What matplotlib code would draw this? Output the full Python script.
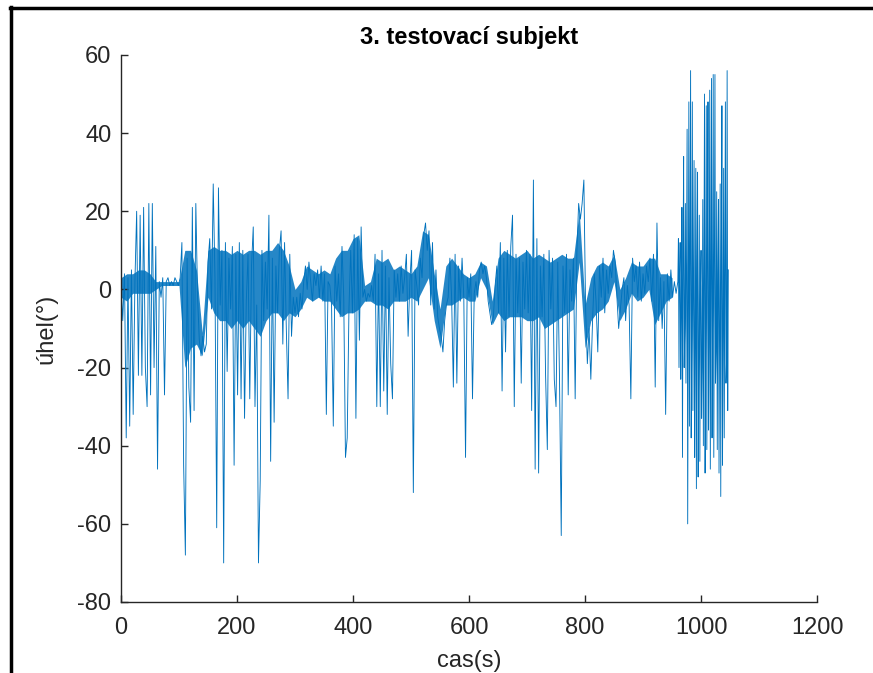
import numpy as np
import matplotlib
matplotlib.use("Agg")
import matplotlib.pyplot as plt
from matplotlib.lines import Line2D

plt.rcParams['font.family'] = ['Liberation Sans', 'DejaVu Sans']
plt.rcParams['axes.unicode_minus'] = False

# angle values, one sample every 3 s from t = 0 to 957 s
angle_slow = [
    2, -8, 4, -38, 3, -35, 5, -32, 2, 20,
    -22, 19, -22, 21, -20, -30, 22, -27, 22, -20,
    11, -46, 2, -2, 3, -27, 2, 3, 1, 2,
    1, 3, 2, 1, 3, 12, -45, -68, 8, -25,
    -34, 21, -31, 22, -2, -13, -17, -12, -16, -14,
    7, 13, -5, 27, 3, -61, 26, -4, 10, -70,
    12, -21, 8, -5, 11, -45, 9, -27, 12, -28,
    10, -33, -3, 9, -28, 6, 16, -30, -4, -70,
    -49, 10, -8, 7, -5, 19, -44, 8, -34, 6,
    -6, 10, 15, -14, 12, -10, -28, 9, -12, -2,
    -6, -2, -7, -1, -5, 2, 6, 0, 7, 2,
    -3, 4, 1, 5, -2, 6, -3, 4, -32, 2,
    1, -4, -35, 6, -3, 4, -7, 11, -2, -43,
    -38, -5, 10, -6, 14, -33, 13, -13, 16, -2,
    0, -3, -1, -2, 1, -3, 9, -30, 4, -30,
    10, -26, 6, -32, 3, -19, -28, 5, -2, 4,
    -3, 6, -1, 3, 9, -12, 2, 10, -52, 5,
    1, -4, 8, 3, 14, 17, 10, 15, -4, 12,
    -5, 5, -7, -10, -12, -16, -8, -4, -2, 8,
    -2, -25, 9, -24, 6, -3, 8, -2, -43, 3,
    -2, 4, -28, -1, 2, -2, 5, 7, 4, 6,
    3, -3, -6, -9, -7, 1, 6, -6, 12, -26,
    8, -16, 10, -7, 11, 19, -30, 9, -6, 8,
    -24, 7, -5, 10, -6, 9, -31, 28, -46, 13,
    -47, 6, -7, 9, -22, -41, 10, -5, 8, -23,
    -30, 7, -23, -63, 6, -6, 9, -27, 5, -3,
    8, -28, 10, 22, 18, 22, 28, -5, -19, -10,
    -23, -8, 4, -3, -16, 6, -2, 8, -6, 5,
    -1, 6, 3, 10, 7, -2, -10, -5, 0, 3,
    -8, 1, -4, -28, 8, 2, 6, -2, 7, -3,
    4, -1, 6, 2, 8, -3, 9, -25, 17, -8,
    3, -10, 2, -32, 4, -3, 5, -2, 2, -1,
]

# last part of the recording (960 - 1047 s), one sample per second
angle_fast = [
    2, 13, -20, 4, 12, -23, -5, 21, -43, 8,
    34, -20, -10, 22, -24, 6, 41, -60, -8, 48,
    -35, 12, 56, -38, -12, 48, -31, 3, 33, -43,
    -15, 31, -51, 7, 30, -48, -18, 19, -44, 0,
    10, -33, -20, 23, -40, 5, 50, -47, -10, 47,
    -41, 9, 48, -36, -14, 51, -46, 2, 54, -38,
    -6, 55, -43, 11, 55, -24, -16, 25, -41, 4,
    23, -47, -9, 27, -53, 8, 47, -45, -12, 31,
    -38, 6, 48, -24, -18, 56, -31, 5,
]

# dense core of the trace (where the samples overlap), every 10 s from 0 to 950 s
core_low = [
    -2, -3, -1, -1, -1, -1, 0, 1, 1, 1,
    1, -20, -15, -14, -17, -2, -6, -8, -8, -10,
    -8, -10, -8, -10, -12, -8, -6, -6, -8, -6,
    -7, -5, -2, -3, -2, -3, -3, -5, -7, -6,
    -6, -5, -3, -3, -4, -4, -5, -3, -3, -3,
    -2, -3, 0, 3, -8, -15, -4, -4, -3, -2,
    -3, -3, 3, 0, -9, -6, -8, -7, -7, -7,
    -8, -8, -7, -10, -9, -8, -7, -6, -5, 7,
    -15, -8, -6, -5, -3, 2, -8, -5, -1, -3,
    -2, 0, -9, -6, -3, -2,
]
core_high = [
    3, 4, 4, 5, 5, 4, 2, 2, 2, 2,
    2, 10, 10, 5, -11, 10, 11, 10, 10, 9,
    10, 9, 10, 10, 9, 10, 10, 12, 10, 6,
    0, 2, 6, 5, 4, 5, 4, 8, 10, 10,
    13, 14, 1, 2, 8, 7, 8, 5, 6, 5,
    4, 6, 15, 14, 4, -5, 6, 8, 6, 4,
    3, 4, 7, 6, -3, 8, 10, 9, 8, 9,
    10, 8, 9, 8, 7, 8, 9, 8, 8, 20,
    -4, 3, 6, 7, 6, 9, 0, 3, 7, 6,
    6, 8, 8, 4, 4, 3,
]

t_slow = np.arange(len(angle_slow)) * 3
t_fast = 960 + np.arange(len(angle_fast))
cas = np.concatenate([t_slow, t_fast])
uhel = np.concatenate([angle_slow, angle_fast])
t_core = np.arange(len(core_low)) * 10

fig = plt.figure(figsize=(8.73, 6.73), dpi=100)
ax = fig.add_axes([0.1386, 0.1055, 0.7973, 0.8128])

ax.fill_between(t_core, core_low, core_high, color='#0072BD', linewidth=0, alpha=0.85)
ax.plot(cas, uhel, color='#0072BD', linewidth=0.65)

ax.set_xlim(0, 1200)
ax.set_ylim(-80, 60)
ax.set_xticks(np.arange(0, 1201, 200))
ax.set_yticks(np.arange(-80, 61, 20))
for s in ['top', 'right']:
    ax.spines[s].set_visible(False)
for s in ['left', 'bottom']:
    ax.spines[s].set_color('#262626')
    ax.spines[s].set_linewidth(1.0)
ax.tick_params(direction='in', length=5, width=1.0, color='#262626',
               labelsize=17, labelcolor='#262626')
ax.tick_params(axis='x', pad=11)
ax.tick_params(axis='y', pad=7)

ax.set_title('3. testovací subjekt', fontsize=17, fontweight='bold', pad=8)
ax.set_xlabel('cas(s)', fontsize=17, color='#262626', labelpad=8)
ax.set_ylabel('úhel(°)', fontsize=17, color='#262626', labelpad=14)

# screenshot frame on the left and top edge
fig.add_artist(Line2D([11 / 873, 11 / 873], [0, 1 - 7 / 673], color='black', linewidth=2.5))
fig.add_artist(Line2D([10 / 873, 1], [1 - 7.5 / 673, 1 - 7.5 / 673], color='black', linewidth=2.5))

plt.savefig('out.png', dpi=100)
